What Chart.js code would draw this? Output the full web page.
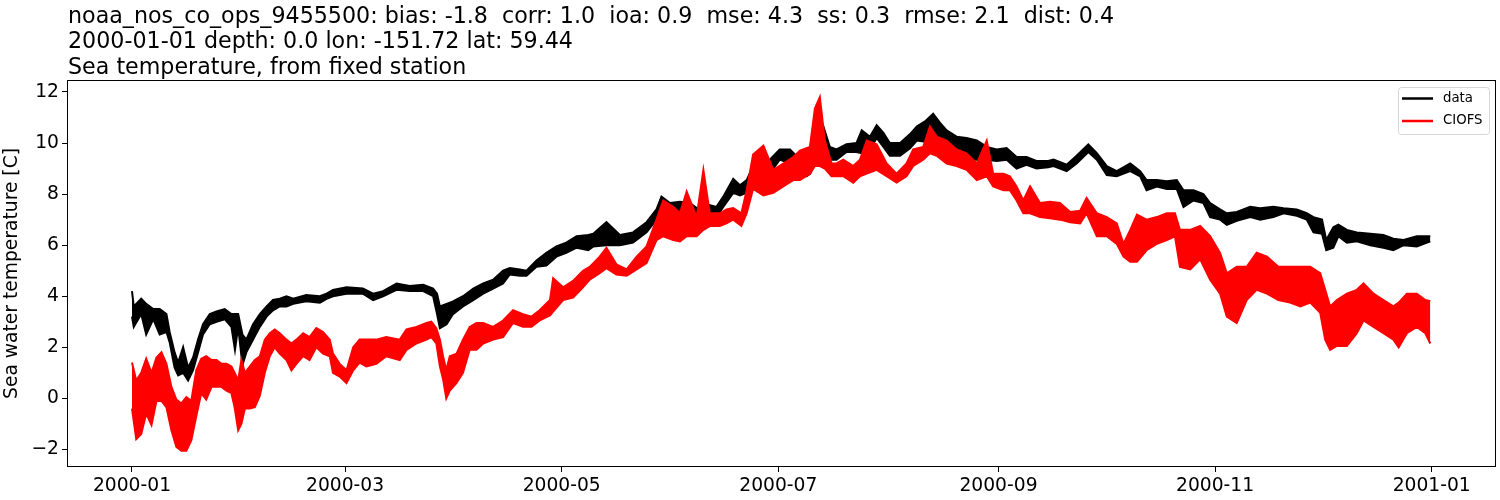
<!DOCTYPE html>
<html>
<head>
<meta charset="utf-8">
<script src="https://cdn.jsdelivr.net/npm/chart.js@4/dist/chart.umd.min.js"></script>
<style>
	html, body { margin: 0; padding: 0; background: #fff; }
	canvas { display: block; }
</style>
</head>
<body>
<canvas id="chart" width="1500" height="500"></canvas>
<script>
var titleLines = [
	"noaa_nos_co_ops_9455500: bias: -1.8  corr: 1.0  ioa: 0.9  mse: 4.3  ss: 0.3  rmse: 2.1  dist: 0.4",
	"2000-01-01 depth: 0.0 lon: -151.72 lat: 59.44",
	"Sea temperature, from fixed station"
];
var yLabel = "Sea water temperature [C]";

// x is days since 2000-01-01
var xTickDays = [0, 60, 121, 182, 244, 305, 366];
var xTickLabels = ["2000-01", "2000-03", "2000-05", "2000-07", "2000-09", "2000-11", "2001-01"];
var yTicks = [-2, 0, 2, 4, 6, 8, 10, 12];

var seriesNames = ["data", "CIOFS"];
var seriesColors = ["#000000", "#ff0000"];

// observed series, upper and lower edge of the tidal band
var dataDays = [0, 0.5, 2.6, 4, 6, 7.8, 9.7, 10.6, 12, 13, 14.4, 15.8, 17.2, 18.6, 20, 21.9, 23.8, 26.1, 28, 29, 29.9, 31.1, 32.2, 34.1, 36, 37.9, 39.7, 41.6, 43.5, 45.4, 49.1, 52.9, 54.8, 56.6, 60.4, 65, 67.9, 70.7, 74.5, 78.2, 82, 84.8, 85.9, 86.7, 88.6, 90.4, 93.2, 96.1, 98.9, 101.7, 104.5, 106.4, 109.2, 111.1, 113.9, 116.7, 119.5, 122.3, 125.2, 128.5, 129.9, 133.6, 137.4, 141.1, 144.9, 147.7, 149.1, 151.5, 154.3, 157.1, 159, 161.8, 164.6, 166.5, 169.3, 171.2, 173.1, 174.9, 177.8, 179.6, 182.4, 185.3, 187.1, 190, 191, 192.8, 194.7, 196.5, 198.4, 201.2, 204, 205.5, 207.8, 209.7, 211.6, 213.4, 216.3, 219.1, 221, 223.3, 225.6, 227.5, 229.4, 232.2, 235, 237.9, 240.7, 243.5, 246.3, 249.1, 251.9, 254.7, 258, 259.5, 263.2, 266, 269.3, 271.7, 274.5, 277.3, 281.1, 283.9, 285.7, 288.6, 291.4, 294.2, 296.1, 298.9, 301.7, 303.6, 306.4, 308.3, 311.1, 314.9, 317.7, 321.4, 324.3, 328, 330.8, 332.7, 335.1, 336.3, 338.3, 339.7, 342.1, 344.9, 348.7, 352.4, 355.2, 358.1, 361.8, 365.6];
var dataHi = [4.2, 3.6, 3.9, 3.7, 3.5, 3.5, 3.3, 2.6, 1.8, 1.4, 2.0, 1.2, 1.6, 2.3, 2.9, 3.3, 3.4, 3.5, 3.3, 3.3, 3.3, 2.5, 2.3, 2.9, 3.3, 3.6, 3.85, 3.9, 4.0, 3.9, 4.05, 4.0, 4.1, 4.25, 4.35, 4.3, 4.1, 4.2, 4.5, 4.4, 4.45, 4.3, 4.1, 3.6, 3.7, 3.8, 4.0, 4.3, 4.5, 4.65, 5.0, 5.1, 5.05, 5.0, 5.4, 5.7, 5.95, 6.1, 6.35, 6.4, 6.45, 6.9, 6.4, 6.5, 6.9, 7.4, 7.9, 7.65, 7.7, 7.65, 7.45, 7.6, 7.5, 7.9, 8.6, 8.35, 8.55, 9.1, 9.1, 9.35, 9.75, 9.75, 9.5, 9.0, 9.3, 9.85, 10.65, 9.85, 9.75, 9.95, 10.0, 10.5, 10.25, 10.7, 10.4, 10.0, 10.0, 10.35, 10.65, 10.85, 11.15, 10.8, 10.5, 10.25, 10.2, 10.1, 9.85, 9.75, 9.8, 9.45, 9.45, 9.3, 9.3, 9.35, 9.15, 9.5, 9.95, 9.6, 9.1, 8.9, 9.2, 8.9, 8.55, 8.55, 8.5, 8.55, 8.15, 8.15, 8.0, 7.65, 7.4, 7.25, 7.3, 7.5, 7.45, 7.5, 7.45, 7.4, 7.25, 7.1, 7.0, 6.2, 6.7, 6.8, 6.6, 6.5, 6.45, 6.4, 6.25, 6.2, 6.35, 6.35];
var dataLo = [3.2, 2.8, 3.3, 2.5, 3.1, 2.5, 2.6, 2.2, 1.2, 0.9, 1.0, 0.7, 1.1, 1.8, 2.5, 2.9, 3.0, 3.1, 2.8, 1.9, 2.8, 1.3, 1.8, 2.3, 2.8, 3.2, 3.45, 3.6, 3.6, 3.7, 3.8, 3.75, 3.9, 4.0, 4.1, 4.1, 3.85, 4.0, 4.25, 4.2, 4.2, 4.0, 3.3, 2.75, 2.9, 3.3, 3.6, 3.85, 4.1, 4.3, 4.5, 4.85, 4.8, 4.8, 5.15, 5.2, 5.55, 5.7, 5.9, 5.8, 5.95, 6.0, 6.0, 6.1, 6.5, 7.0, 7.25, 7.1, 7.1, 7.1, 7.1, 7.2, 7.1, 7.5, 8.05, 7.95, 8.05, 8.7, 8.55, 8.8, 9.35, 9.2, 9.1, 8.7, 8.8, 9.35, 9.2, 9.35, 9.35, 9.65, 9.65, 9.6, 9.75, 10.2, 9.85, 9.5, 9.5, 9.8, 10.1, 10.05, 10.4, 9.9, 9.6, 9.5, 9.35, 9.35, 9.35, 9.3, 9.35, 9.0, 9.15, 9.0, 9.05, 9.1, 8.9, 9.2, 9.65, 9.35, 8.75, 8.7, 8.9, 8.7, 8.15, 8.3, 8.2, 8.2, 7.5, 7.75, 7.65, 7.1, 7.0, 6.8, 6.95, 7.1, 7.0, 7.1, 7.25, 7.15, 7.0, 6.5, 6.45, 5.8, 5.9, 6.35, 6.1, 6.15, 6.0, 5.9, 5.8, 6.0, 5.95, 6.15];

// CIOFS model series, upper and lower edge of the tidal band
var modelDays = [0, 1.2, 2.6, 4, 5.5, 6.9, 8.3, 9.7, 11.1, 12.5, 13.9, 15.3, 16.7, 18.1, 19.5, 20.9, 22.4, 23.8, 25.2, 26.6, 28, 28.9, 29.9, 30.8, 31.8, 33.2, 34.6, 36, 37.4, 38.8, 40.2, 41.6, 43.5, 44.9, 46.3, 48.2, 50, 51.9, 53.8, 55.7, 56.6, 58.5, 60.4, 62.3, 64.1, 66, 68.8, 71.6, 75.4, 77.3, 80.1, 82.9, 84.3, 85.7, 86.7, 87.6, 88.5, 89.5, 91.4, 93.2, 95.1, 97, 98.9, 101.7, 104.5, 107.3, 110.1, 112.5, 114.8, 117.7, 118.6, 121.4, 124.2, 127, 128.9, 131.7, 133.6, 136.4, 139.3, 142.1, 144.9, 147.7, 149.6, 152.4, 154.3, 156.2, 159, 160.9, 162.7, 165.5, 167.4, 169.3, 171.6, 173.1, 174.9, 177.8, 180.6, 183.4, 186.2, 188.1, 190.9, 192.3, 193.7, 195.1, 197, 198.4, 200.3, 203.1, 205, 206.9, 209.7, 212.5, 215.3, 218.1, 220, 222.8, 224.7, 226.6, 229.4, 232.2, 235, 237.9, 240.7, 242.5, 245.4, 247.2, 249.1, 251, 252.9, 255.7, 258.5, 261.3, 264.2, 267, 268.8, 271.7, 274.5, 277.3, 279.2, 281.1, 283, 285.7, 288.6, 291.4, 293.7, 295.1, 298, 300.8, 303.6, 306.4, 308.3, 311.1, 313.9, 316.7, 319.6, 322.8, 326.1, 329, 331.8, 334.6, 336, 337.4, 339.3, 342.1, 344.9, 346.8, 349.6, 352.4, 355.2, 356.7, 359, 361.8, 364.2, 365.6];
var modelHi = [1.4, 0.7, 1.0, 1.55, 1.0, 1.6, 1.8, 1.35, 0.45, -0.05, -0.2, 0.05, -0.1, 1.1, 1.55, 1.65, 1.5, 1.5, 1.35, 1.35, 1.25, 1.0, 0.7, 1.5, 1.0, 1.25, 1.5, 1.65, 2.3, 2.55, 2.7, 2.55, 2.3, 2.15, 2.3, 2.55, 2.4, 2.75, 2.6, 2.3, 1.75, 1.35, 1.1, 2.0, 2.3, 2.3, 2.3, 2.4, 2.3, 2.7, 2.8, 2.95, 3.0, 2.75, 2.3, 1.65, 1.1, 1.65, 1.75, 2.3, 2.8, 2.95, 2.95, 2.8, 3.05, 3.45, 3.3, 3.2, 3.45, 3.85, 4.7, 4.35, 4.6, 5.0, 5.15, 5.55, 5.9, 5.25, 5.05, 5.55, 5.95, 7.0, 7.75, 7.5, 7.25, 8.1, 7.1, 8.95, 7.25, 7.25, 7.4, 7.45, 7.25, 8.15, 9.55, 9.9, 8.95, 9.2, 9.45, 9.7, 9.85, 11.35, 11.8, 10.1, 9.2, 9.2, 9.35, 9.1, 9.35, 10.1, 9.95, 9.2, 8.8, 9.2, 9.75, 9.85, 10.65, 10.25, 10.1, 9.75, 9.6, 9.2, 10.1, 8.8, 8.8, 8.7, 8.3, 7.75, 8.3, 7.65, 7.7, 7.65, 7.3, 7.35, 7.85, 7.25, 7.1, 6.85, 6.05, 6.6, 7.2, 7.0, 7.1, 7.25, 7.25, 6.6, 6.6, 6.75, 6.35, 5.7, 4.9, 5.15, 5.15, 5.7, 5.55, 5.15, 5.15, 5.15, 5.15, 4.9, 4.25, 3.6, 3.85, 4.1, 4.25, 4.5, 4.1, 3.85, 3.6, 3.75, 4.1, 4.1, 3.85, 3.8];
var modelLo = [-0.4, -1.6, -1.4, -0.6, -1.05, -0.1, -0.1, -0.35, -1.25, -1.9, -2.05, -2.05, -1.65, -0.7, 0.2, -0.05, 0.45, 0.45, 0.45, 0.3, 0.2, -0.35, -1.25, -1.0, -0.4, -0.4, -0.35, 0.1, 1.0, 1.65, 2.0, 1.75, 1.5, 1.1, 1.35, 1.65, 1.5, 2.0, 1.75, 1.65, 1.0, 0.85, 0.6, 1.1, 1.4, 1.25, 1.35, 1.65, 1.5, 1.9, 2.15, 2.3, 2.4, 2.15, 1.25, 0.75, 0.0, 0.3, 0.6, 1.0, 1.9, 1.9, 2.15, 2.3, 2.4, 2.95, 2.8, 2.8, 3.05, 3.25, 3.4, 3.85, 3.95, 4.35, 4.65, 4.9, 5.1, 4.85, 4.8, 5.05, 5.3, 6.2, 6.35, 6.2, 6.15, 6.35, 6.35, 6.6, 6.75, 6.75, 6.85, 7.0, 6.75, 7.25, 8.2, 7.95, 8.05, 8.3, 8.55, 8.55, 8.8, 9.1, 9.1, 9.0, 8.7, 8.7, 8.7, 8.45, 8.7, 8.8, 8.95, 8.7, 8.45, 8.7, 9.1, 9.35, 9.6, 9.5, 9.2, 9.1, 8.95, 8.55, 8.7, 8.3, 8.15, 8.15, 7.75, 7.25, 7.25, 7.1, 7.05, 7.0, 6.9, 6.85, 7.25, 6.35, 6.35, 6.05, 5.55, 5.35, 5.35, 5.8, 6.05, 6.2, 6.35, 5.15, 5.05, 5.45, 4.65, 4.1, 3.2, 2.95, 3.85, 4.25, 4.1, 3.85, 3.75, 3.6, 3.75, 3.35, 2.3, 1.9, 2.05, 2.05, 2.55, 3.05, 2.8, 2.55, 2.3, 2.0, 2.55, 2.8, 2.55, 2.15];

var FONT = "'DejaVu Sans', sans-serif";

var toPoints = function(days, values){
	var pts = [];
	for(var i = 0; i < days.length; i++){
		pts.push({x: days[i], y: values[i]});
	}
	return pts;
};

var band = function(label, color, days, hi, lo){
	var base = {
		borderColor: color,
		backgroundColor: color,
		borderWidth: 2,
		pointRadius: 0,
		tension: 0
	};
	return [
		Object.assign({label: label, data: toPoints(days, hi), fill: false}, base),
		Object.assign({label: label + "_lo", data: toPoints(days, lo), fill: "-1"}, base)
	];
};

// model first so it is painted on top of the observations
var datasets = band(seriesNames[1], seriesColors[1], modelDays, modelHi, modelLo)
	.concat(band(seriesNames[0], seriesColors[0], dataDays, dataHi, dataLo));

var decor = {
	id: "decor",
	afterDatasetsDraw: function(chart){
		var ctx = chart.ctx;
		var a = chart.chartArea;

		ctx.save();
		ctx.strokeStyle = "#000";
		ctx.lineWidth = 1;
		ctx.strokeRect(a.left + 0.5, a.top + 0.5, a.right - a.left - 1, a.bottom - a.top - 1);

		// legend box, top right inside the axes
		var bw = 91, bh = 47;
		var bx = a.right - 7 - bw, by = a.top + 7;
		ctx.beginPath();
		ctx.roundRect(bx + 0.5, by + 0.5, bw, bh, 3);
		ctx.fillStyle = "rgba(255,255,255,0.8)";
		ctx.fill();
		ctx.strokeStyle = "#d6d6d6";
		ctx.stroke();

		ctx.font = "13.3px " + FONT;
		ctx.textBaseline = "middle";
		ctx.textAlign = "left";
		for(var i = 0; i < seriesNames.length; i++){
			var ly = by + 11.5 + i * 22.5;
			ctx.beginPath();
			ctx.moveTo(bx + 4, ly);
			ctx.lineTo(bx + 35, ly);
			ctx.strokeStyle = seriesColors[i];
			ctx.lineWidth = 2.5;
			ctx.stroke();
			ctx.fillStyle = "#000";
			ctx.fillText(seriesNames[i], bx + 45, ly);
		}

		// three line title, left aligned with the axes
		ctx.font = "22.2px " + FONT;
		ctx.textBaseline = "alphabetic";
		ctx.fillStyle = "#000";
		for(var j = 0; j < titleLines.length; j++){
			ctx.fillText(titleLines[j], a.left + 1, 22.5 + j * 25.8);
		}
		ctx.restore();
	}
};

var tickFont = {family: FONT, size: 18.7};

new Chart(document.getElementById("chart"), {
	type: "line",
	data: {datasets: datasets},
	plugins: [decor],
	options: {
		responsive: false,
		animation: false,
		devicePixelRatio: 1,
		layout: {padding: {top: 80, right: 4, left: 0, bottom: 0}},
		plugins: {
			legend: {display: false},
			tooltip: {enabled: false},
			title: {display: false}
		},
		scales: {
			x: {
				type: "linear",
				min: -18.3,
				max: 384.1,
				afterFit: function(scale){ scale.height = 33; },
				afterBuildTicks: function(scale){
					scale.ticks = xTickDays.map(function(v){ return {value: v}; });
				},
				grid: {drawOnChartArea: false, drawTicks: true, tickLength: 5, color: "#000"},
				border: {display: false},
				ticks: {
					font: tickFont,
					color: "#000",
					padding: 3,
					maxRotation: 0,
					autoSkip: false,
					callback: function(v){
						var k = xTickDays.indexOf(v);
						return k >= 0 ? xTickLabels[k] : "";
					}
				}
			},
			y: {
				min: -2.69,
				max: 12.47,
				afterFit: function(scale){ scale.width = 67; },
				afterBuildTicks: function(scale){
					scale.ticks = yTicks.map(function(v){ return {value: v}; });
				},
				grid: {drawOnChartArea: false, drawTicks: true, tickLength: 5, color: "#000"},
				border: {display: false},
				title: {display: true, text: yLabel, font: tickFont, color: "#000", padding: {top: 1, bottom: 0}},
				ticks: {
					font: tickFont,
					color: "#000",
					padding: 3,
					callback: function(v){ return String(v).replace("-", "\u2212"); }
				}
			}
		}
	}
});
</script>
</body>
</html>
